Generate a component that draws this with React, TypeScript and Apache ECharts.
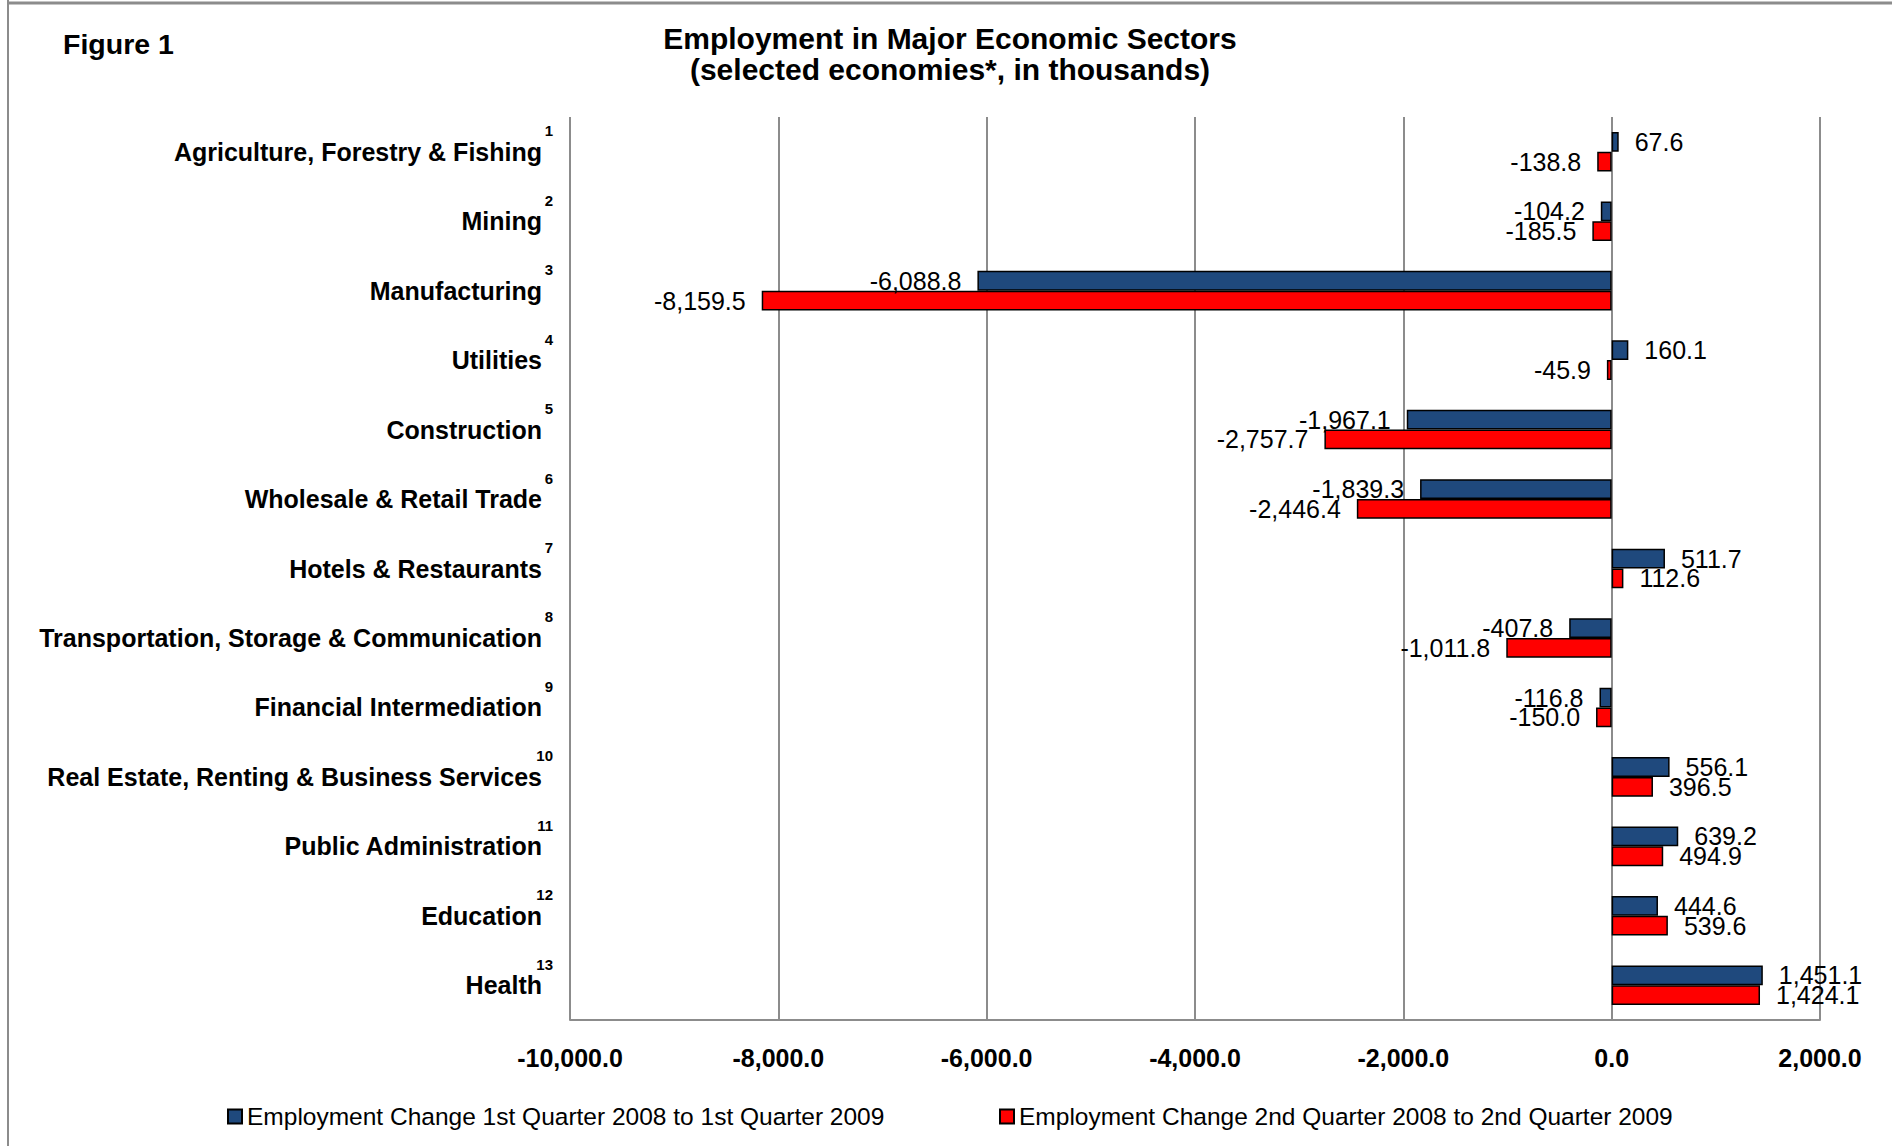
import React, { useEffect, useRef } from "react";
import * as echarts from "echarts";

const categories = [
  "Agriculture, Forestry & Fishing",
  "Mining",
  "Manufacturing",
  "Utilities",
  "Construction",
  "Wholesale & Retail Trade",
  "Hotels & Restaurants",
  "Transportation, Storage & Communication",
  "Financial Intermediation",
  "Real Estate, Renting & Business Services",
  "Public Administration",
  "Education",
  "Health",
];
const footnoteNumbers = ["1", "2", "3", "4", "5", "6", "7", "8", "9", "10", "11", "12", "13"];
const q1Change = [67.6, -104.2, -6088.8, 160.1, -1967.1, -1839.3, 511.7, -407.8, -116.8, 556.1, 639.2, 444.6, 1451.1];
const q2Change = [-138.8, -185.5, -8159.5, -45.9, -2757.7, -2446.4, 112.6, -1011.8, -150.0, 396.5, 494.9, 539.6, 1424.1];
const seriesNames = [
  "Employment Change 1st Quarter 2008 to 1st Quarter 2009",
  "Employment Change 2nd Quarter 2008 to 2nd Quarter 2009",
];
const xMin = -10000;
const xMax = 2000;
const xInterval = 2000;

const FONT = "'Liberation Sans', Arial, Helvetica, sans-serif";
const fmt = (v: number) =>
  v.toLocaleString("en-US", { minimumFractionDigits: 1, maximumFractionDigits: 1 });

export default function App() {
  const ref = useRef<HTMLDivElement>(null);
  useEffect(() => {
    if (!ref.current) return;
    const chart = echarts.init(ref.current, undefined, { renderer: "svg" });
    const mkData = (arr: number[]) =>
      arr.map((v) => ({ value: v, label: { position: v < 0 ? "left" : "right" } }));
    const barLabel = {
      show: true,
      distance: 16,
      fontSize: 25,
      color: "#000",
      fontFamily: FONT,
      formatter: (p: any) => fmt(p.value),
    };
    chart.setOption({
      animation: false,
      backgroundColor: "#fff",
      title: [
        {
          text: "Employment in Major Economic Sectors\n(selected economies*, in thousands)",
          left: 950,
          textAlign: "center",
          top: 23,
          padding: 0,
          textStyle: { fontSize: 30, fontWeight: "bold", lineHeight: 31, color: "#000", fontFamily: FONT },
        },
        {
          text: "Figure 1",
          left: 63,
          top: 29,
          padding: 0,
          textStyle: { fontSize: 28.5, fontWeight: "bold", color: "#000", fontFamily: FONT },
        },
      ],
      graphic: [
        { type: "line", shape: { x1: 8, y1: 0, x2: 8, y2: 1146 }, style: { stroke: "#8c8c8c", lineWidth: 2 } },
        { type: "line", shape: { x1: 8, y1: 3, x2: 1892, y2: 3 }, style: { stroke: "#8c8c8c", lineWidth: 3 } },
      ],
      legend: [
        {
          data: [seriesNames[0]],
          left: 227,
          top: 1104,
          padding: 0,
          itemWidth: 14,
          itemHeight: 14,
          icon: "rect",
          textStyle: { fontSize: 24.5, color: "#000", fontFamily: FONT },
        },
        {
          data: [seriesNames[1]],
          left: 999,
          top: 1104,
          padding: 0,
          itemWidth: 14,
          itemHeight: 14,
          icon: "rect",
          textStyle: { fontSize: 24.5, color: "#000", fontFamily: FONT },
        },
      ],
      grid: { left: 570, top: 117, width: 1250, height: 903, outerBoundsMode: "none" },
      xAxis: {
        type: "value",
        min: xMin,
        max: xMax,
        interval: xInterval,
        axisLine: { show: true, lineStyle: { color: "#8c8c8c", width: 2 } },
        axisTick: { show: false },
        splitLine: { show: true, lineStyle: { color: "#8c8c8c", width: 2 } },
        axisLabel: {
          margin: 25,
          fontSize: 25,
          fontWeight: "bold",
          color: "#000",
          fontFamily: FONT,
          formatter: (v: number) => fmt(v),
        },
      },
      yAxis: {
        type: "category",
        inverse: true,
        data: categories,
        axisLine: { show: false, onZero: false },
        axisTick: { show: false },
        splitLine: { show: false },
        axisLabel: {
          margin: 17,
          formatter: (val: string, idx: number) => `{s|${footnoteNumbers[idx]}}\n{n|${val}}\n{e| }`,
          rich: {
            s: { fontSize: 15, fontWeight: "bold", lineHeight: 16, color: "#000", fontFamily: FONT },
            n: {
              fontSize: 25,
              fontWeight: "bold",
              lineHeight: 26,
              color: "#000",
              fontFamily: FONT,
              padding: [0, 11, 0, 0],
            },
            e: { fontSize: 15, lineHeight: 16, fontFamily: FONT },
          },
        },
      },
      series: [
        {
          name: seriesNames[0],
          type: "bar",
          data: mkData(q1Change),
          barGap: "0%",
          barCategoryGap: "43%",
          itemStyle: { color: "#1F497D", borderColor: "#000", borderWidth: 1.5 },
          label: barLabel,
        },
        {
          name: seriesNames[1],
          type: "bar",
          data: mkData(q2Change),
          barGap: "0%",
          barCategoryGap: "43%",
          itemStyle: { color: "#FF0000", borderColor: "#000", borderWidth: 1.5 },
          label: barLabel,
        },
      ],
    });
    return () => chart.dispose();
  }, []);
  return (
    <div
      ref={ref}
      style={{ position: "fixed", left: 0, top: 0, width: 1892, height: 1146, background: "#fff" }}
    />
  );
}
